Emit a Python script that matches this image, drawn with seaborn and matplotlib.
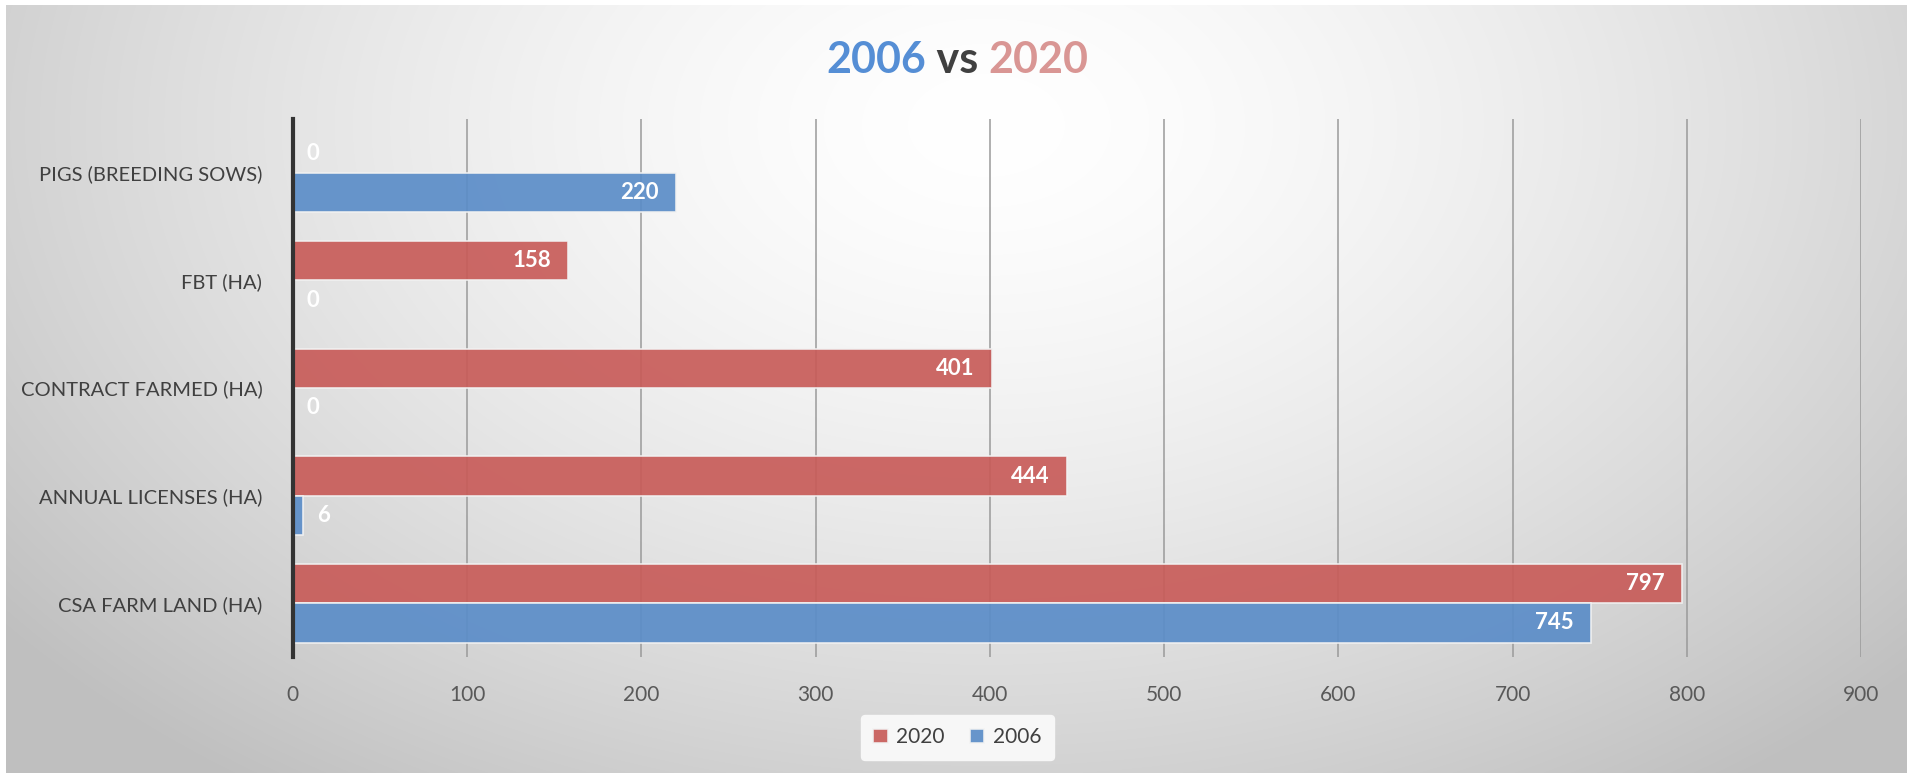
import numpy as np
import pandas as pd
import seaborn as sns
from matplotlib import pyplot as plt

# data
categories = ["PIGS (BREEDING SOWS)", "FBT (HA)", "CONTRACT FARMED (HA)",
              "ANNUAL LICENSES (HA)", "CSA FARM LAND (HA)"]
values_2020 = [0, 158, 401, 444, 797]
values_2006 = [220, 0, 0, 6, 745]
years = ["2020", "2006"]
x_ticks = [0, 100, 200, 300, 400, 500, 600, 700, 800, 900]

df = pd.DataFrame({
    "category": categories * 2,
    "value": values_2020 + values_2006,
    "year": ["2020"] * len(categories) + ["2006"] * len(categories),
})

sns.set_style("white")
plt.rcParams['font.family'] = ['Lato', 'DejaVu Sans']

fig = plt.figure(figsize=(19.07, 7.73), dpi=100)
fig.patch.set_facecolor("white")

# radial grey background
bg_ax = fig.add_axes([6 / 1907, 0, 1 - 6 / 1907, 1 - 5 / 773])
h, w = 768, 1901
yy, xx = np.mgrid[0:h, 0:w]
r = np.sqrt(((xx - 980) / 1250.0) ** 2 + ((yy - 120) / 820.0) ** 2)
shade = 1 - 0.25 * np.clip(r, 0, 1) ** 1.5
bg_ax.imshow(np.dstack([shade] * 3), aspect="auto", extent=[0, 1, 0, 1])
bg_ax.axis("off")

ax = fig.add_axes([0.1536, 0.150, 0.8223, 0.696])
ax.patch.set_alpha(0)

sns.barplot(data=df, y="category", x="value", hue="year", hue_order=years,
            palette={"2020": "#C85C59", "2006": "#5B8DC8"}, width=0.73,
            saturation=1, orient="h", alpha=0.92, edgecolor="#f2f2f2",
            linewidth=1.2, ax=ax, zorder=3, legend=True)

ax.set_xlim(0, 900)
ax.set_xticks(x_ticks)
ax.set_xlabel("")
ax.set_ylabel("")
ax.grid(axis="x", color="#9a9a9a", linewidth=1.1, zorder=0)
ax.set_axisbelow(True)
for s in ["top", "right", "bottom"]:
    ax.spines[s].set_visible(False)
ax.spines["left"].set_color("#333333")
ax.spines["left"].set_linewidth(3)
ax.spines["left"].set_zorder(6)
ax.tick_params(axis="x", length=0, pad=20, labelsize=15, labelcolor="#595959")
ax.tick_params(axis="y", length=0, pad=22, labelsize=14.5, labelcolor="#404040")

# value labels
for container in ax.containers:
    for patch in container:
        wdt = patch.get_width()
        yc = patch.get_y() + patch.get_height() / 2
        txt = f"{wdt:.0f}"
        if wdt == 0:
            patch.set_linewidth(0)
        if wdt > 40:
            ax.text(wdt - 10, yc, txt, ha="right", va="center", color="white",
                    fontsize=16, fontweight="bold", zorder=5)
        else:
            ax.text(wdt + 8, yc, txt, ha="left", va="center", color="white",
                    fontsize=16, fontweight="bold", zorder=5)

# legend at bottom
handles, labels = ax.get_legend_handles_labels()
ax.legend_.remove()
leg = fig.legend(handles, labels, loc="center", bbox_to_anchor=(0.502, 0.046),
                 ncol=2, frameon=True, fontsize=15, handlelength=0.7,
                 handleheight=0.7, columnspacing=1.2, handletextpad=0.4,
                 borderpad=0.6)
leg.get_frame().set_facecolor("#f7f7f7")
leg.get_frame().set_edgecolor("#f7f7f7")
leg.get_frame().set_alpha(1)
for t in leg.get_texts():
    t.set_color("#404040")

# title with coloured parts, laid out one after another
renderer = fig.canvas.get_renderer()
parts = [("2006", "#558ED5"), (" vs ", "#404040"), ("2020", "#D99694")]
texts = []
for s, c in parts:
    texts.append(fig.text(0, 0.922, s, color=c, fontsize=31, fontweight="bold",
                          ha="left", va="center"))
widths = [t.get_window_extent(renderer).width / fig.bbox.width for t in texts]
x0 = 0.502 - sum(widths) / 2
for t, wd in zip(texts, widths):
    t.set_x(x0)
    x0 += wd

fig.savefig("out.png", dpi=100)
